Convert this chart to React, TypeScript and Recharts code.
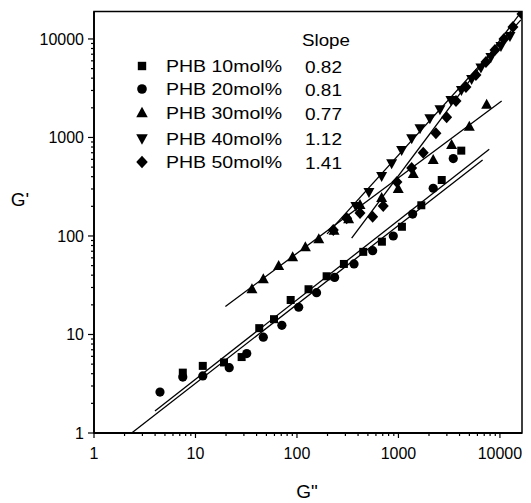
import { ScatterChart, Scatter, XAxis, YAxis, ReferenceArea } from 'recharts';

const FONT = '"Liberation Sans", Arial, sans-serif';
const W = 531;
const H = 503;
const PLOT_LEFT = 94;
const PLOT_BOTTOM = 433;

const X_MAX = 16500;
const Y_MAX = 19000;
const decades = [1, 10, 100, 1000, 10000];
const minorSteps = [2, 3, 4, 5, 6, 7, 8, 9];

const seriesNames = ['PHB 10mol%', 'PHB 20mol%', 'PHB 30mol%', 'PHB 40mol%', 'PHB 50mol%'];
const slopes = ['0.82', '0.81', '0.77', '1.12', '1.41'];
const markerKinds = ['square', 'circle', 'up', 'down', 'diamond'];

// G'' (x) and G' (y)
const phb10X = [7.5, 11.8, 19.1, 28.5, 42.5, 59.4, 86.7, 130, 196, 290, 450, 687, 1082, 1680, 2670, 4160];
const phb10Y = [4.1, 4.8, 5.2, 5.9, 11.6, 14.3, 22.4, 28.8, 39, 52, 69, 87.5, 124, 205, 370, 735];

const phb20X = [4.47, 7.5, 11.8, 21.5, 32, 46.6, 71, 104, 156, 235, 365, 557, 889, 1380, 2200, 3470];
const phb20Y = [2.6, 3.7, 3.8, 4.6, 6.4, 9.4, 12.4, 18.9, 26.6, 38, 52, 71, 100, 167, 305, 610];

const phb30X = [36, 46.6, 66, 90.7, 121, 164, 232, 323, 418, 683, 995, 1400, 2200, 3340, 4990, 7400];
const phb30Y = [28.8, 36.3, 49.6, 60.8, 76.8, 92.6, 113, 148, 206, 243, 300, 426, 591, 839, 1288, 2153];

const phb40X = [381, 512, 683, 857, 1075, 1350, 1630, 2040, 2565, 3290, 4175, 5260, 6500, 8150, 10230, 12560];
const phb40Y = [202, 280, 407, 547, 747, 982, 1240, 1565, 1930, 2400, 3035, 3930, 5140, 6560, 8490, 10720];

const phb50X = [228, 309, 418, 557, 708, 966, 1350, 1755, 2340, 2985, 3690, 4625, 5800, 7280, 8930, 10950, 13430, 16480];
const phb50Y = [115, 151, 171, 157, 202, 353, 490, 701, 1103, 1603, 2350, 3260, 4310, 5840, 7730, 10000, 13240, 17950];

// fitted lines, end points
const fit10X = [3.99, 7850];
const fit10Y = [1.67, 759];
const fit20X = [2.35, 6750];
const fit20Y = [1, 591];
const fit30X = [19.7, 10400];
const fit30Y = [19.2, 2350];
const fit40X = [198, 16100];
const fit40Y = [105, 15600];
const fit50X = [346, 16000];
const fit50Y = [95, 18500];

const pts = (xs: number[], ys: number[]) => xs.map((x, i) => ({ x, y: ys[i] }));

const ticks = (max: number) =>
  decades.flatMap((d) => [d, ...minorSteps.map((m) => m * d)]).filter((v) => v <= max);

function Marker({ kind, cx, cy, s = 1 }: { kind: string; cx: number; cy: number; s?: number }) {
  if (kind === 'square') return <rect x={cx - 4 * s} y={cy - 4 * s} width={8 * s} height={8 * s} fill="#000" />;
  if (kind === 'circle') return <circle cx={cx} cy={cy} r={4.6 * s} fill="#000" />;
  if (kind === 'up')
    return <polygon points={`${cx},${cy - 6 * s} ${cx + 5.5 * s},${cy + 4 * s} ${cx - 5.5 * s},${cy + 4 * s}`} fill="#000" />;
  if (kind === 'down')
    return <polygon points={`${cx},${cy + 6 * s} ${cx + 5.5 * s},${cy - 4 * s} ${cx - 5.5 * s},${cy - 4 * s}`} fill="#000" />;
  return <polygon points={`${cx},${cy - 6 * s} ${cx + 5.5 * s},${cy} ${cx},${cy + 6 * s} ${cx - 5.5 * s},${cy}`} fill="#000" />;
}

const XTick = (props: any) => {
  const { x, payload } = props;
  const major = decades.includes(payload.value);
  return (
    <g>
      <line x1={x} x2={x} y1={PLOT_BOTTOM} y2={PLOT_BOTTOM + (major ? 5 : 3)} stroke="#000" strokeWidth={1.2} />
      {major && (
        <text x={x} y={PLOT_BOTTOM + 26} textAnchor="middle" fontSize={16} fontFamily={FONT} fill="#000">
          {payload.value}
        </text>
      )}
    </g>
  );
};

const YTick = (props: any) => {
  const { y, payload } = props;
  const major = decades.includes(payload.value);
  return (
    <g>
      <line x1={PLOT_LEFT - (major ? 6 : 3)} x2={PLOT_LEFT} y1={y} y2={y} stroke="#000" strokeWidth={1.2} />
      {major && (
        <text x={PLOT_LEFT - 10} y={y + 6} textAnchor="end" fontSize={16} fontFamily={FONT} fill="#000">
          {payload.value}
        </text>
      )}
    </g>
  );
};

const noDot = () => <g />;
const lineStyle = { stroke: '#000', strokeWidth: 1.3 };

export default function App() {
  const series = [pts(phb10X, phb10Y), pts(phb20X, phb20Y), pts(phb30X, phb30Y), pts(phb40X, phb40Y), pts(phb50X, phb50Y)];
  const fits = [pts(fit10X, fit10Y), pts(fit20X, fit20Y), pts(fit30X, fit30Y), pts(fit40X, fit40Y), pts(fit50X, fit50Y)];
  const rowY = [66, 89, 113, 138.5, 162];

  return (
    <div style={{ position: 'absolute', left: 0, top: 0, width: W, height: H, background: '#fff' }}>
      <ScatterChart width={W} height={H} margin={{ top: 11.5, right: 9, bottom: 0, left: 0 }}>
        <XAxis
          type="number"
          dataKey="x"
          scale="log"
          domain={[1, X_MAX]}
          ticks={ticks(X_MAX)}
          interval={0}
          tick={<XTick />}
          tickLine={false}
          axisLine={{ stroke: '#000', strokeWidth: 1.8 }}
          height={70}
          allowDataOverflow
        />
        <YAxis
          type="number"
          dataKey="y"
          scale="log"
          domain={[1, Y_MAX]}
          ticks={ticks(Y_MAX)}
          interval={0}
          tick={<YTick />}
          tickLine={false}
          axisLine={{ stroke: '#000', strokeWidth: 1.8 }}
          width={94}
          allowDataOverflow
        />
        <ReferenceArea x1={1} x2={X_MAX} y1={1} y2={Y_MAX} fill="none" fillOpacity={0} stroke="#000" strokeWidth={1.5} />
        {fits.map((d, i) => (
          <Scatter key={`fit-${i}`} data={d} line={lineStyle} shape={noDot} legendType="none" isAnimationActive={false} />
        ))}
        {series.map((d, i) => (
          <Scatter
            key={seriesNames[i]}
            name={seriesNames[i]}
            data={d}
            shape={(p: any) => <Marker kind={markerKinds[i]} cx={p.cx} cy={p.cy} />}
            isAnimationActive={false}
          />
        ))}
      </ScatterChart>
      <svg width={W} height={H} style={{ position: 'absolute', left: 0, top: 0, pointerEvents: 'none' }}>
        <text x={302} y={46} fontSize={17} fontFamily={FONT} fill="#000" textLength={48} lengthAdjust="spacingAndGlyphs">
          Slope
        </text>
        {seriesNames.map((name, i) => (
          <g key={name}>
            <Marker kind={markerKinds[i]} cx={142} cy={rowY[i]} s={1.05} />
            <text x={166} y={rowY[i] + 6} fontSize={17} fontFamily={FONT} fill="#000" textLength={116} lengthAdjust="spacingAndGlyphs">
              {name}
            </text>
            <text x={305} y={rowY[i] + 6.5} fontSize={17} fontFamily={FONT} fill="#000" textLength={37} lengthAdjust="spacingAndGlyphs">
              {slopes[i]}
            </text>
          </g>
        ))}
        <text x={20} y={206} textAnchor="middle" fontSize={19} fontFamily={FONT} fill="#000">G'</text>
        <text x={307} y={498} textAnchor="middle" fontSize={19} fontFamily={FONT} fill="#000">G"</text>
      </svg>
    </div>
  );
}
